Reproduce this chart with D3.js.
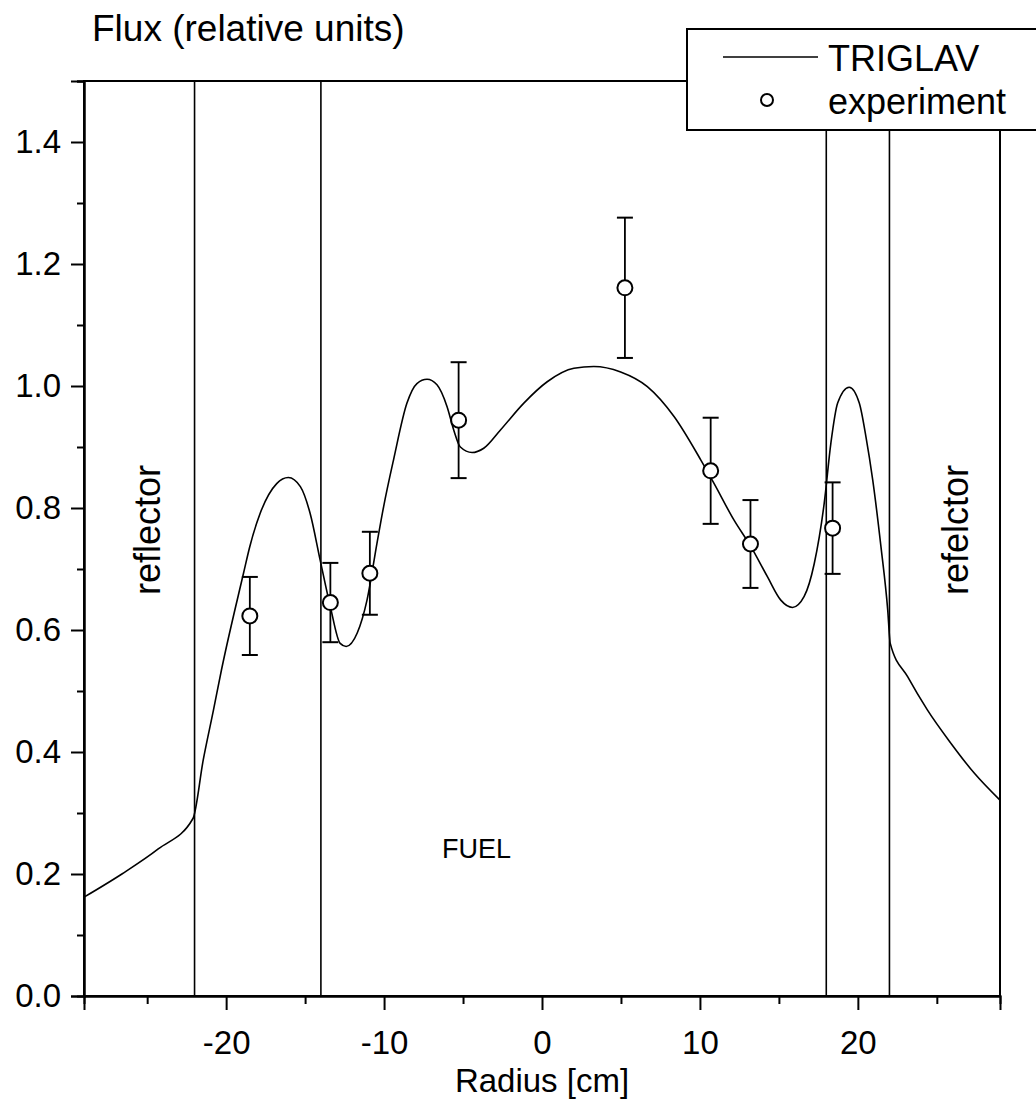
<!DOCTYPE html>
<html>
<head>
<meta charset="utf-8">
<script src="https://cdn.jsdelivr.net/npm/d3@7"></script>
<style>
  body { margin: 0; background: #fff; }
  svg text { font-family: "Liberation Sans", Arial, sans-serif; fill: #000; }
  .axis path, .axis line { stroke: #000; stroke-width: 2; }
  .axis text { font-size: 33px; }
</style>
</head>
<body>
<svg class="chart"></svg>
<script>
// region borders (cm)
var regionBounds = [-22, -14, 18, 22];

// TRIGLAV calculation
var curveX = [-29, -26.6, -24.3, -22.1, -21.45, -20.8, -20.3, -18.9, -18.5, -17.85, -16.8, -16.06,
  -15.3, -14.68, -14.05, -13.4, -12.78, -12.4, -11.7, -11.08, -10.45, -10.03, -9.4, -8.55,
  -7.92, -7.28, -6.65, -6.01, -5.59, -5.17, -4.43, -3.69, -2.63, -1.15, 0.33, 2.02, 3.28,
  4.98, 6.67, 8.36, 10.05, 10.9, 12.16, 13.22, 14.28, 15.12, 15.86, 16.6, 17.24, 17.87,
  18.29, 18.72, 19.45, 20.09, 20.51, 20.94, 21.46, 21.89, 22.05, 23.16, 24.4, 25.9, 27.38, 29];
var curveY = [0.162, 0.2, 0.241, 0.291, 0.387, 0.469, 0.534, 0.693, 0.737, 0.791, 0.840, 0.850,
  0.835, 0.791, 0.715, 0.638, 0.578, 0.573, 0.595, 0.649, 0.742, 0.802, 0.879, 0.972,
  1.004, 1.011, 1.002, 0.966, 0.928, 0.900, 0.891, 0.898, 0.928, 0.972, 1.007, 1.029, 1.032,
  1.023, 0.999, 0.950, 0.879, 0.840, 0.780, 0.737, 0.687, 0.649, 0.637, 0.655, 0.709, 0.808,
  0.906, 0.972, 0.998, 0.972, 0.917, 0.846, 0.737, 0.633, 0.578, 0.523, 0.469, 0.414, 0.365, 0.321];

// experiment
var expX = [-18.5, -13.4, -10.9, -5.28, 5.25, 10.68, 13.2, 18.4];
var expY = [0.623, 0.645, 0.693, 0.944, 1.161, 0.861, 0.741, 0.767];
var expErr = [0.064, 0.065, 0.068, 0.095, 0.115, 0.087, 0.072, 0.075];

var xMajor = [-20, -10, 0, 10, 20];
var xMinor = [-25, -15, -5, 5, 15, 25];
var yMajor = [0, 0.2, 0.4, 0.6, 0.8, 1.0, 1.2, 1.4];
var yMinor = [0.1, 0.3, 0.5, 0.7, 0.9, 1.1, 1.3, 1.5];

var margin = {top: 81, right: 36, bottom: 106, left: 84};
var width = 1036 - margin.left - margin.right;
var height = 1102 - margin.top - margin.bottom;

var svg = d3.select(".chart")
	.attr("width", 1036)
	.attr("height", 1102);

var chart = svg.append("g")
	.attr("transform", "translate(" + margin.left + "," + margin.top + ")");

var x = d3.scaleLinear().domain([-29, 29]).range([0, width]);
var y = d3.scaleLinear().domain([0, 1.5]).range([height, 0]);

// frame
chart.append("rect")
	.attr("width", width)
	.attr("height", height)
	.attr("fill", "none")
	.attr("stroke", "#000")
	.attr("stroke-width", 2);

// axes, major and minor ticks (plain hyphen for negatives)
chart.append("g")
	.attr("class", "axis")
	.attr("transform", "translate(0," + height + ")")
	.call(d3.axisBottom(x).tickValues(xMajor).tickSize(14).tickPadding(21)
		.tickFormat(function(d) { return String(d); }));
chart.append("g")
	.attr("class", "axis")
	.attr("transform", "translate(0," + height + ")")
	.call(d3.axisBottom(x).tickValues(xMinor).tickSize(8).tickFormat(""));
chart.append("g")
	.attr("class", "axis")
	.call(d3.axisLeft(y).tickValues(yMajor).tickSize(13).tickPadding(10).tickFormat(d3.format(".1f")));
chart.append("g")
	.attr("class", "axis")
	.call(d3.axisLeft(y).tickValues(yMinor).tickSize(7).tickFormat(""));

// region borders
chart.selectAll(".bound")
	.data(regionBounds)
.enter().append("line")
	.attr("class", "bound")
	.attr("x1", function(d) { return x(d); })
	.attr("x2", function(d) { return x(d); })
	.attr("y1", 0)
	.attr("y2", height)
	.attr("stroke", "#000")
	.attr("stroke-width", 1.6);

// calculated curve
var line = d3.line()
	.x(function(d) { return x(d[0]); })
	.y(function(d) { return y(d[1]); })
	.curve(d3.curveMonotoneX);

chart.append("path")
	.datum(d3.zip(curveX, curveY))
	.attr("d", line)
	.attr("fill", "none")
	.attr("stroke", "#000")
	.attr("stroke-width", 1.6);

// experiment with error bars
var pts = expX.map(function(d, i) { return {x: d, y: expY[i], e: expErr[i]}; });
var pt = chart.selectAll(".pt")
	.data(pts)
.enter().append("g")
	.attr("class", "pt");

pt.append("line")
	.attr("x1", function(d) { return x(d.x); })
	.attr("x2", function(d) { return x(d.x); })
	.attr("y1", function(d) { return y(d.y - d.e); })
	.attr("y2", function(d) { return y(d.y + d.e); })
	.attr("stroke", "#000").attr("stroke-width", 1.8);
[-1, 1].forEach(function(s) {
	pt.append("line")
		.attr("x1", function(d) { return x(d.x) - 8; })
		.attr("x2", function(d) { return x(d.x) + 8; })
		.attr("y1", function(d) { return y(d.y + s*d.e); })
		.attr("y2", function(d) { return y(d.y + s*d.e); })
		.attr("stroke", "#000").attr("stroke-width", 2);
});
pt.append("circle")
	.attr("cx", function(d) { return x(d.x); })
	.attr("cy", function(d) { return y(d.y); })
	.attr("r", 7.5)
	.attr("fill", "#fff")
	.attr("stroke", "#000")
	.attr("stroke-width", 2);

// region labels
chart.append("text")
	.attr("transform", "translate(" + x(-25) + "," + y(0.764) + ") rotate(-90)")
	.attr("text-anchor", "middle")
	.attr("dy", "0.35em")
	.style("font-size", "36px")
	.text("reflector");
chart.append("text")
	.attr("transform", "translate(" + x(26.2) + "," + y(0.764) + ") rotate(-90)")
	.attr("text-anchor", "middle")
	.attr("dy", "0.35em")
	.style("font-size", "36px")
	.text("refelctor");
chart.append("text")
	.attr("x", x(-4.15))
	.attr("y", y(0.241))
	.attr("text-anchor", "middle")
	.attr("dy", "0.35em")
	.style("font-size", "27px")
	.text("FUEL");

// titles
svg.append("text")
	.attr("x", 92)
	.attr("y", 41)
	.style("font-size", "37px")
	.text("Flux (relative units)");
svg.append("text")
	.attr("x", margin.left + x(0))
	.attr("y", 1092)
	.attr("text-anchor", "middle")
	.style("font-size", "33px")
	.text("Radius [cm]");

// legend
var legend = svg.append("g").attr("transform", "translate(687,29)");
legend.append("rect")
	.attr("width", 360)
	.attr("height", 101)
	.attr("fill", "#fff")
	.attr("stroke", "#000")
	.attr("stroke-width", 2);
legend.append("line")
	.attr("x1", 36).attr("x2", 131)
	.attr("y1", 28).attr("y2", 28)
	.attr("stroke", "#000").attr("stroke-width", 1.6);
legend.append("circle")
	.attr("cx", 80).attr("cy", 71).attr("r", 6)
	.attr("fill", "#fff").attr("stroke", "#000").attr("stroke-width", 2);
legend.append("text")
	.attr("x", 141).attr("y", 42)
	.style("font-size", "36px")
	.text("TRIGLAV");
legend.append("text")
	.attr("x", 141).attr("y", 85)
	.style("font-size", "36px")
	.text("experiment");
</script>
</body>
</html>
